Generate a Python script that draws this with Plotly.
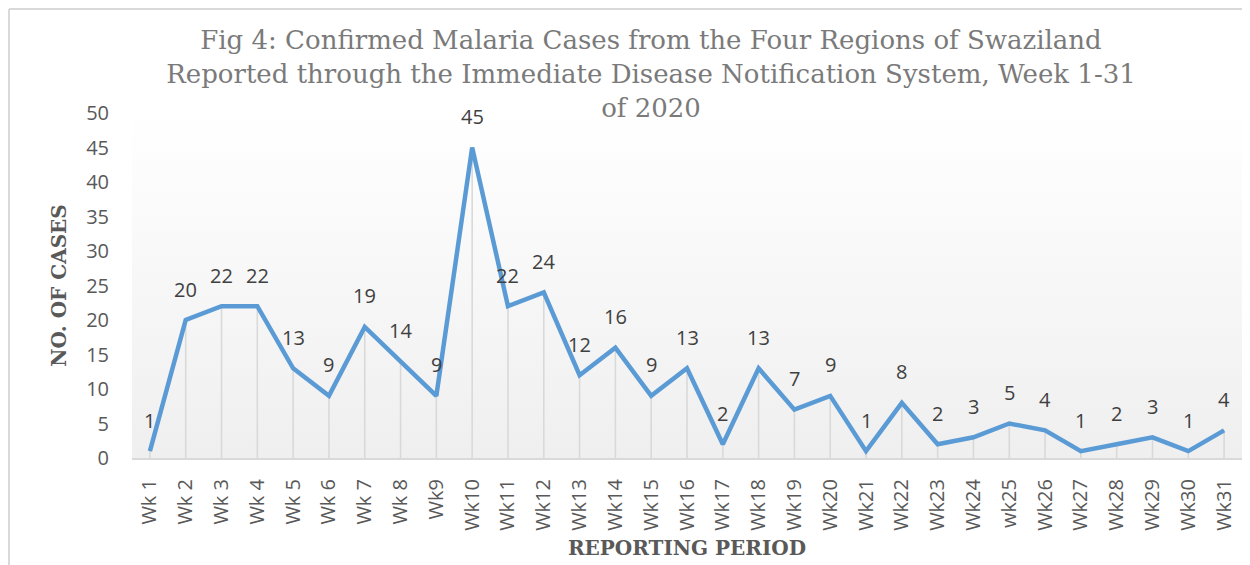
import base64
import plotly.graph_objects as go

weeks = ["Wk 1", "Wk 2", "Wk 3", "Wk 4", "Wk 5", "Wk 6", "Wk 7", "Wk 8", "Wk9", "Wk10",
         "Wk11", "Wk12", "Wk13", "Wk14", "Wk15", "Wk16", "Wk17", "Wk18", "Wk19", "Wk20",
         "Wk21", "Wk22", "Wk23", "Wk24", "wk25", "Wk26", "Wk27", "Wk28", "Wk29", "Wk30", "Wk31"]
cases = [1, 20, 22, 22, 13, 9, 19, 14, 9, 45,
         22, 24, 12, 16, 9, 13, 2, 13, 7, 9,
         1, 8, 2, 3, 5, 4, 1, 2, 3, 1, 4]
y_ticks = [0, 5, 10, 15, 20, 25, 30, 35, 40, 45, 50]

title_text = ("Fig 4: Confirmed Malaria Cases from the Four Regions of Swaziland<br>"
              "Reported through the Immediate Disease Notification System, Week 1-31<br>"
              "of 2020")

W, H = 1250, 565
OFF = 8  # page body margin
ML, MR, MT, MB = 132 - OFF, 8 + OFF, 113 - OFF, 107 + OFF

svg = ('<svg xmlns="http://www.w3.org/2000/svg" width="10" height="100" preserveAspectRatio="none">'
       '<defs><linearGradient id="g" x1="0" y1="0" x2="0" y2="1">'
       '<stop offset="0" stop-color="#ffffff"/><stop offset="1" stop-color="#efefef"/>'
       '</linearGradient></defs><rect width="10" height="100" fill="url(#g)"/></svg>')
bg_src = "data:image/svg+xml;base64," + base64.b64encode(svg.encode()).decode()

fig = go.Figure()

# drop lines
fig.add_trace(go.Scatter(
    x=weeks, y=cases, mode="markers",
    marker=dict(size=1, opacity=0),
    error_y=dict(type="data", symmetric=False, array=[0] * len(cases), arrayminus=cases,
                 color="#d9d9d9", thickness=1.6, width=0),
    hoverinfo="skip", showlegend=False,
))

fig.add_trace(go.Scatter(
    x=weeks, y=cases, mode="lines",
    line=dict(color="#5b9bd5", width=4.5),
    showlegend=False,
))

for w, c in zip(weeks, cases):
    fig.add_annotation(x=w, y=c, text=str(c), showarrow=False, yshift=31,
                       font=dict(family="Open Sans", size=20, color="#404040"))

pw = W - ML - MR
ph = H - MT - MB
# chart border (left and top)
bx = (1 - ML) / pw
by = (H - MB - 1) / ph
fig.add_shape(type="line", xref="paper", yref="paper",
              x0=bx, x1=bx, y0=by, y1=-(H - MB) / ph,
              line=dict(color="#d9d9d9", width=2))
fig.add_shape(type="line", xref="paper", yref="paper",
              x0=bx, x1=(W - ML) / pw, y0=by, y1=by,
              line=dict(color="#d9d9d9", width=2))

fig.update_layout(
    width=W, height=H,
    margin=dict(l=ML, r=MR, t=MT, b=MB),
    paper_bgcolor="white",
    plot_bgcolor="rgba(0,0,0,0)",
    images=[dict(source=bg_src, xref="paper", yref="paper", x=0, y=1, sizex=1, sizey=1,
                 sizing="stretch", xanchor="left", yanchor="top", layer="below")],
    title=dict(text=title_text, x=(651 - OFF) / W, xanchor="center", y=1 - 41 / H, yanchor="top",
               font=dict(family="DejaVu Serif", size=26, color="#7a7a7a")),
    xaxis=dict(
        type="category", range=[-0.5, len(weeks) - 0.5],
        showline=True, linecolor="#d9d9d9", linewidth=2,
        showgrid=False, zeroline=False, ticks="",
        tickangle=-90, ticklabelstandoff=11,
        tickfont=dict(family="Open Sans", size=20, color="#595959"),
        title=dict(text="REPORTING PERIOD", standoff=11,
                   font=dict(family="DejaVu Serif", size=20, color="#595959", weight="bold")),
    ),
    yaxis=dict(
        range=[0, 50], tickvals=y_ticks,
        showline=False, showgrid=False, zeroline=False, ticks="",
        ticklabelstandoff=22,
        tickfont=dict(family="Open Sans", size=20, color="#595959"),
        title=dict(text="NO. OF CASES", standoff=14,
                   font=dict(family="DejaVu Serif", size=20, color="#595959", weight="bold")),
    ),
)

fig.write_html("out.html")
